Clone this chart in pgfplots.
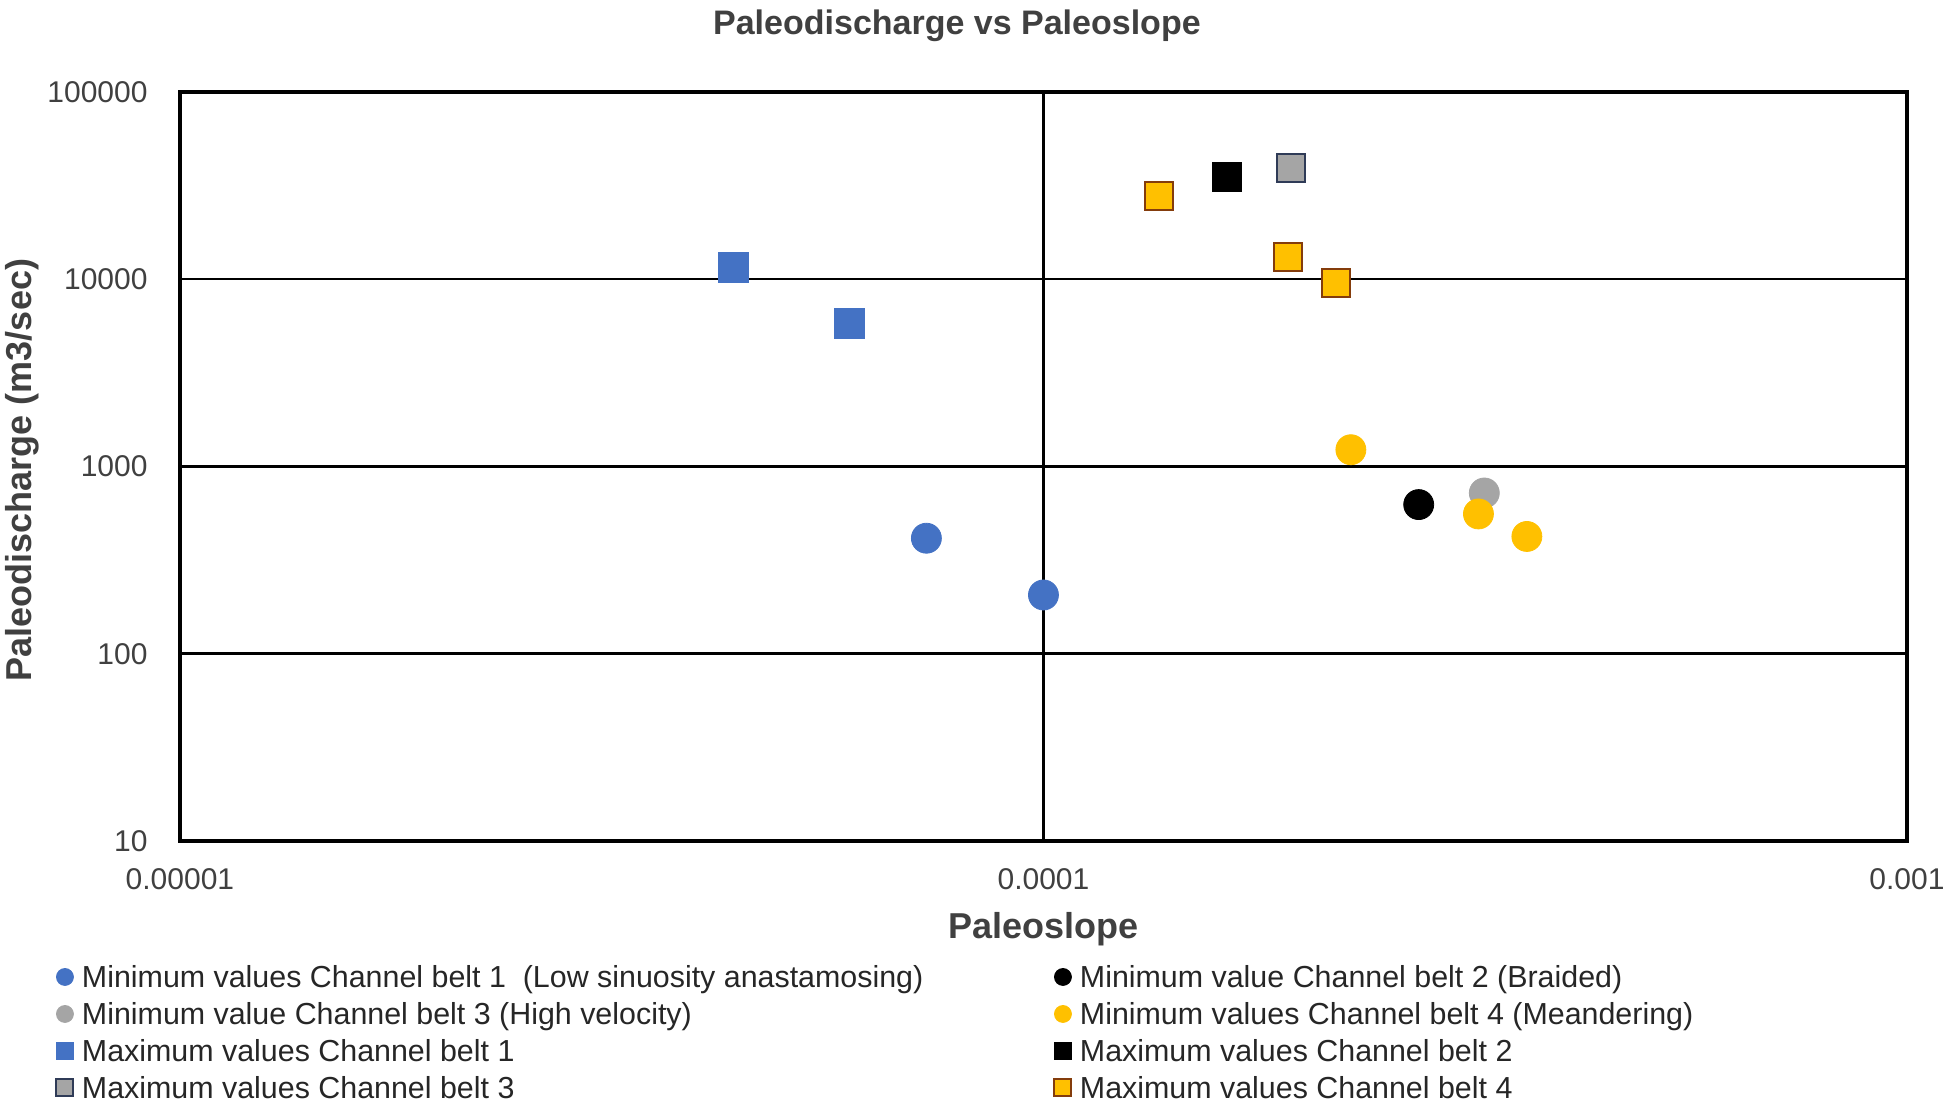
\documentclass[border=0pt]{standalone}
\usepackage{fontspec}
\setmainfont{Liberation Sans}
\usepackage{pgfplots}
\pgfplotsset{compat=1.18}
\definecolor{cblue}{HTML}{4472C4}
\definecolor{cgray}{HTML}{A5A5A5}
\definecolor{cgold}{HTML}{FFC000}
\definecolor{cnavy}{HTML}{2F3B57}
\definecolor{cbrown}{HTML}{843C0C}
\definecolor{ctext}{HTML}{404040}
\definecolor{cleg}{HTML}{262626}
\newlength\legW
\newlength\colsepL
\begin{document}
\settowidth{\legW}{\fontsize{15.2}{18}\selectfont Minimum values Channel belt 1\ \ (Low sinuosity anastamosing)}%
\setlength{\colsepL}{\dimexpr 486.25pt-\legW\relax}%
\begin{tikzpicture}
\begin{loglogaxis}[
  at={(0,0)}, anchor=south west,
  scale only axis, width=863.5pt, height=374.5pt,
  xmin=1e-5, xmax=1e-3, ymin=10, ymax=1e5,
  xtick={1e-5,1e-4,1e-3}, xticklabels={0.00001,0.0001,0.001},
  ytick={10,100,1000,10000,100000}, yticklabels={10,100,1000,10000,100000},
  minor xtick={}, minor ytick={},
  major tick length=0pt, minor tick length=0pt,
  axis line style={line width=2pt, black},
  grid=major, major grid style={line width=1.25pt, black},
  /pgf/number format/assume math mode=true,
  xticklabel style={anchor=base, yshift=-24.4pt, font=\fontsize{15}{18}\selectfont, text=ctext},
  yticklabel style={anchor=east, inner sep=0pt, xshift=-16pt, font=\fontsize{15}{18}\selectfont, text=ctext},
  title={Paleodischarge vs Paleoslope},
  title style={at={(axis description cs:0.4499,1.061)}, anchor=base, font=\fontsize{17}{20}\selectfont\bfseries, text=ctext},
  xlabel={Paleoslope},
  xlabel style={at={(axis description cs:0.5,-0.13)}, anchor=base, font=\fontsize{18}{21}\selectfont\bfseries, text=ctext},
  ylabel={Paleodischarge (m3/sec)},
  ylabel style={at={(axis description cs:-0.0857,0.4953)}, anchor=base, font=\fontsize{18}{21}\selectfont\bfseries, text=ctext},
  legend columns=2,
  legend cell align=left,
  legend style={at={(axis description cs:-0.0715,-0.1586)}, anchor=north west, draw=none, fill=none, inner sep=0pt, outer sep=0pt, font=\fontsize{15.2}{18}\selectfont, text=cleg, row sep=1.3pt, column sep=0pt, nodes={inner sep=0pt, text height=14pt, text depth=3.2pt}, /tikz/column 2/.style={column sep=\colsepL}},
  legend image code/.code={\draw[#1, mark size=4.25pt] plot coordinates {(4.25pt,0pt)}; \path[draw=none, fill=none] (0pt,-0.1pt) rectangle (12.75pt,0.1pt);},
]
\addplot[only marks, mark=*, mark size=7.5pt, mark options={draw=cblue, fill=cblue, line width=0.4pt}] coordinates {(7.32e-5,414) (1.0e-4,206)};
\addlegendentry{Minimum values Channel belt 1\ \ (Low sinuosity anastamosing)}
\addplot[only marks, mark=*, mark size=7.5pt, mark options={draw=black, fill=black, line width=0.4pt}] coordinates {(2.72e-4,626)};
\addlegendentry{Minimum value Channel belt 2 (Braided)}
\addplot[only marks, mark=*, mark size=7.5pt, mark options={draw=cgray, fill=cgray, line width=0.4pt}] coordinates {(3.24e-4,722)};
\addlegendentry{Minimum value Channel belt 3 (High velocity)}
\addplot[only marks, mark=*, mark size=7.5pt, mark options={draw=cgold, fill=cgold, line width=0.4pt}] coordinates {(2.27e-4,1229) (3.19e-4,558) (3.63e-4,423)};
\addlegendentry{Minimum values Channel belt 4 (Meandering)}
\addplot[only marks, mark=square*, mark size=7.5pt, mark options={draw=cblue, fill=cblue, line width=0.4pt}] coordinates {(4.37e-5,11500) (5.96e-5,5810)};
\addlegendentry{Maximum values Channel belt 1}
\addplot[only marks, mark=square*, mark size=7.25pt, mark options={draw=black, fill=black, line width=0.4pt}] coordinates {(1.63e-4,35100)};
\addlegendentry{Maximum values Channel belt 2}
\addplot[only marks, mark=square*, mark size=7.0pt, mark options={draw=cnavy, fill=cgray, line width=1pt}] coordinates {(1.935e-4,39200)};
\addlegendentry{Maximum values Channel belt 3}
\addplot[only marks, mark=square*, mark size=7.0pt, mark options={draw=cbrown, fill=cgold, line width=1pt}] coordinates {(1.36e-4,27900) (1.92e-4,13100) (2.18e-4,9580)};
\addlegendentry{Maximum values Channel belt 4}
\end{loglogaxis}
\pgfresetboundingbox
\path[use as bounding box] (-90pt,-132.5pt) rectangle (885pt,420.5pt);
\end{tikzpicture}
\end{document}
